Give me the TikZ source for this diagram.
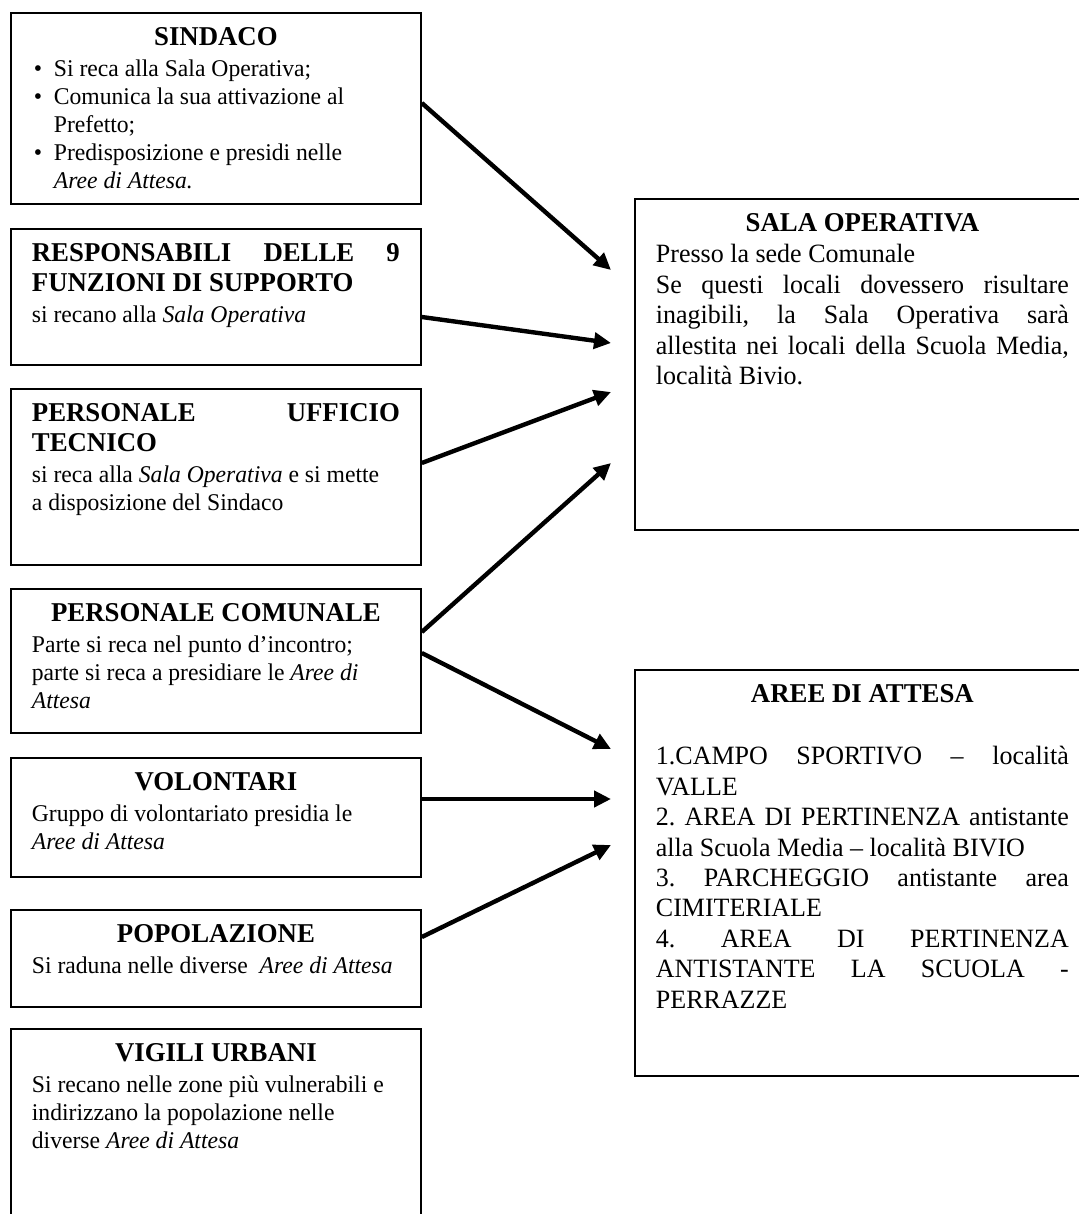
\documentclass[tikz,border=0pt]{standalone}
\usepackage{fontspec}
\setmainfont{Liberation Serif}[FakeStretch=0.985]
\usetikzlibrary{arrows.meta,positioning}
\tolerance=10000
\hbadness=10000
\hyphenpenalty=10000
\frenchspacing

\newcommand{\headfont}{\fontsize{13.6}{15}\selectfont\bfseries}
\newcommand{\boxtitle}[2][1.5pt]{{\centering\headfont #2\par}\vspace{#1}}
\newcommand{\boxhead}[2][1.5pt]{{\headfont #2\par}\vspace{#1}}
\newcommand{\bulletitem}{\par\hangindent=11pt\hangafter=1\noindent\makebox[11pt][l]{\hspace{1pt}\textbullet}}

\tikzset{
  box/.style={draw, line width=0.9pt, anchor=north west, align=justify, inner xsep=10.5pt, inner ysep=0pt, text height=16.5pt},
  leftbox/.style={box, text width=184pt, font=\fontsize{12}{14}\selectfont},
  rightbox/.style={box, text width=206.5pt, font=\fontsize{13.2}{15.2}\selectfont},
  flow/.style={line width=2.2pt, -{Triangle[length=8.5pt,width=8pt]}}
}

\begin{document}
\begin{tikzpicture}[x=0.5pt, y=-0.5pt]
  \useasboundingbox (0,0) rectangle (1079,1214);
  \clip (0,0) rectangle (1079,1214);

  % Left column
  \node[leftbox, text depth=79pt] (sindaco) at (10,12) {%
    \boxtitle{SINDACO}%
    \bulletitem Si reca alla Sala Operativa;%
    \bulletitem Comunica la sua attivazione al\newline Prefetto;%
    \bulletitem Predisposizione e presidi nelle\newline \emph{Aree di Attesa.}\par};
  \node[leftbox, text depth=51.5pt] (resp) at (10,228) {%
    \boxhead{RESPONSABILI DELLE 9\linebreak FUNZIONI DI SUPPORTO}%
    si recano alla \emph{Sala Operativa}\par};
  \node[leftbox, text depth=71.5pt] (tecnico) at (10,388) {%
    \boxhead{PERSONALE UFFICIO\linebreak TECNICO}%
    si reca alla \emph{Sala Operativa} e si mette\newline a disposizione del Sindaco\par};
  \node[leftbox, text depth=55.5pt] (comunale) at (10,588) {%
    \boxtitle{PERSONALE COMUNALE}%
    Parte si reca nel punto d'incontro;\newline parte si reca a presidiare le \emph{Aree di}\newline \emph{Attesa}\par};
  \node[leftbox, text depth=43pt] (volontari) at (10,757) {%
    \boxtitle{VOLONTARI}%
    Gruppo di volontariato presidia le\newline \emph{Aree di Attesa}\par};
  \node[leftbox, text depth=32pt] (popolazione) at (10,909) {%
    \boxtitle{POPOLAZIONE}%
    Si raduna nelle diverse\ \ \emph{Aree di Attesa}\par};
  \node[leftbox, text depth=84.5pt] (vigili) at (10,1028) {%
    \boxtitle{VIGILI URBANI}%
    Si recano nelle zone più vulnerabili e\newline indirizzano la popolazione nelle\newline diverse \emph{Aree di Attesa}\par};

  % Right column
  \node[rightbox, text depth=149pt] (sala) at (634,198) {%
    \boxtitle[0.3pt]{SALA OPERATIVA}%
    Presso la sede Comunale\par
    Se questi locali dovessero risultare\linebreak inagibili, la Sala Operativa sarà\linebreak allestita nei locali della Scuola Media,\linebreak località Bivio.\par};
  \node[rightbox, text depth=186.5pt] (aree) at (634,669) {%
    \boxtitle[15.8pt]{AREE DI ATTESA}%
    1.CAMPO SPORTIVO -- località\linebreak VALLE\par
    2. AREA DI PERTINENZA antistante\linebreak alla Scuola Media -- località BIVIO\par
    3. PARCHEGGIO antistante area\linebreak CIMITERIALE\par
    4. AREA DI PERTINENZA\linebreak ANTISTANTE LA SCUOLA -\linebreak PERRAZZE\par};

  % Arrow ends
  \coordinate (sala1) at (611,270);
  \coordinate (sala2) at (611,343);
  \coordinate (sala3) at (611,392);
  \coordinate (sala4) at (611,463);
  \coordinate (aree1) at (611,749);
  \coordinate (aree2) at (611,799);
  \coordinate (aree3) at (611,845);

  % Arrows
  \draw[flow] (sindaco.east |- 0,103) -- (sala1);
  \draw[flow] (resp.east |- 0,317) -- (sala2);
  \draw[flow] (tecnico.east |- 0,463) -- (sala3);
  \draw[flow] (comunale.east |- 0,632) -- (sala4);
  \draw[flow] (comunale.east |- 0,653) -- (aree1);
  \draw[flow] (volontari.east |- 0,799) -- (aree2);
  \draw[flow] (popolazione.east |- 0,937) -- (aree3);
\end{tikzpicture}
\end{document}
